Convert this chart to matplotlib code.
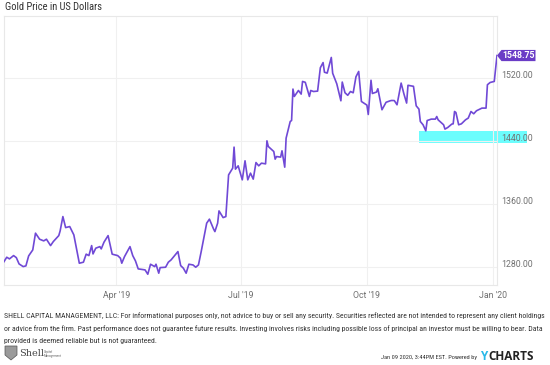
import matplotlib
matplotlib.use("Agg")
import matplotlib.pyplot as plt
import matplotlib.transforms as mtransforms
from matplotlib.patches import Polygon, Rectangle
import numpy as np
import pandas as pd

plt.rcParams['font.family'] = ['Roboto', 'DejaVu Sans']

# gold price, days counted from the first date
start = pd.Timestamp('2019-01-09')
days = [0, 2, 4, 7, 9, 11, 14, 16, 18, 21, 23, 26, 29, 31, 34, 36, 40, 41, 43, 45,
        48, 51, 55, 58, 60, 62, 64, 65, 67, 70, 71, 73, 76, 79, 83, 85, 86, 88, 92, 94,
        96, 98, 103, 105, 107, 110, 111, 113, 114, 118, 120, 122, 127, 129, 131, 133, 135, 138, 140, 142,
        144, 148, 150, 153, 154, 156, 157, 160, 162, 164, 167, 168, 169, 171, 174, 176, 178, 180, 182, 184,
        186, 188, 191, 192, 193, 197, 198, 199, 202, 203, 205, 206, 209, 210, 211, 212, 215, 217, 218, 220,
        223, 224, 226, 229, 231, 233, 234, 236, 239, 240, 243, 246, 247, 249, 251, 253, 255, 257, 259, 261,
        265, 266, 268, 269, 272, 273, 276, 279, 282, 283, 285, 287, 290, 292, 294, 295, 299, 301, 303, 304,
        306, 308, 309, 312, 315, 316, 317, 321, 322, 324, 327, 328, 329, 330, 332, 334, 337, 339, 341, 343,
        345, 349, 352, 353, 355, 358, 360]
price = [1286.7, 1292.3, 1290.2, 1294.4, 1291.8, 1283.8, 1280.4, 1281.3, 1294.0, 1301.6,
         1322.9, 1315.2, 1313.1, 1315.2, 1307.1, 1312.2, 1319.8, 1325.8, 1344.0, 1330.0,
         1331.3, 1320.7, 1284.7, 1286.0, 1296.2, 1294.4, 1307.1, 1296.5, 1303.8, 1305.8,
         1302.9, 1311.4, 1319.8, 1296.2, 1294.4, 1291.1, 1284.7, 1293.1, 1305.8, 1294.4,
         1287.6, 1277.5, 1276.2, 1270.7, 1283.4, 1280.4, 1283.4, 1272.0, 1279.1, 1279.6,
         1286.0, 1288.9, 1299.5, 1281.7, 1278.3, 1272.0, 1283.4, 1282.5, 1279.6, 1282.5,
         1299.5, 1335.6, 1340.7, 1328.3, 1324.9, 1335.6, 1351.2, 1342.7, 1344.0, 1397.0,
         1405.6, 1432.3, 1404.3, 1408.5, 1390.7, 1414.9, 1390.7, 1399.2, 1391.6, 1412.7,
         1408.5, 1411.9, 1411.0, 1440.3, 1433.1, 1426.7, 1417.0, 1420.3, 1419.6, 1427.6,
         1406.8, 1443.7, 1464.9, 1466.1, 1506.1, 1496.7, 1504.3, 1499.7, 1515.8, 1514.7,
         1496.7, 1504.3, 1503.0, 1503.5, 1533.2, 1539.8, 1527.5, 1526.4, 1546.3, 1526.2,
         1512.8, 1491.2, 1515.0, 1501.4, 1498.2, 1503.0, 1501.4, 1521.7, 1528.5, 1490.3,
         1485.7, 1473.8, 1517.3, 1500.5, 1502.3, 1506.5, 1479.8, 1489.3, 1491.2, 1491.6,
         1491.5, 1486.1, 1513.7, 1500.1, 1488.3, 1510.9, 1509.6, 1484.8, 1480.6, 1464.9,
         1460.7, 1453.0, 1466.1, 1467.9, 1467.9, 1471.2, 1467.0, 1460.7, 1455.2, 1457.2,
         1461.6, 1461.9, 1477.6, 1476.3, 1460.7, 1461.9, 1467.0, 1469.2, 1477.6, 1474.7,
         1478.5, 1481.9, 1481.9, 1511.6, 1514.5, 1515.8, 1548.75]

y_ticks = [1280, 1360, 1440, 1520]
x_tick_dates = ['2019-04-01', '2019-07-01', '2019-10-01', '2020-01-01']
x_tick_labels = ["Apr '19", "Jul '19", "Oct '19", "Jan '20"]
last_label = '1548.75'

# highlighted band next to the 1440 label
band_low, band_high = 1438, 1453
band_start = 303

footer_lines = [
    "SHELL CAPITAL MANAGEMENT, LLC: For informational purposes only, not advice to buy or sell any security. "
    "Securities reflected are not intended to represent any client holdings",
    "or advice from the firm. Past performance does not guarantee future results. Investing involves risks "
    "including possible loss of principal an investor must be willing to bear. Data",
    "provided is deemed reliable but is not guaranteed.",
]
stamp = 'Jan 09 2020, 3:44PM EST. Powered by '

line_color = '#7049d6'
tag_color = '#6a3cc6'
grid_color = '#f0f0f0'
label_color = '#707070'
narrow = ['Roboto Condensed', 'DejaVu Sans']

W, H = 550, 365
fig = plt.figure(figsize=(W / 100, H / 100), dpi=100)
ax = fig.add_axes([4 / W, 1 - 285 / H, 493 / W, 269 / H])

ax.plot(days, price, color=line_color, lw=1.2, zorder=3, solid_joinstyle='round')
ax.set_xlim(0, 360)
ax.set_ylim(1257, 1599)

x_ticks = [(pd.Timestamp(d) - start).days for d in x_tick_dates]
ax.set_xticks(x_ticks)
ax.set_yticks(y_ticks)
ax.grid(True, color=grid_color, lw=0.8)
ax.tick_params(length=0, labelleft=False, labelbottom=False)
for s in ax.spines.values():
    s.set_color('#e8e8e8')
    s.set_linewidth(0.8)

# tick labels drawn by hand to get the offsets right
for t, lab in zip(x_ticks, x_tick_labels):
    ax.text(t, -0.022, lab, transform=ax.get_xaxis_transform(), ha='center', va='top',
            fontsize=6.3, color=label_color)
for v in y_ticks:
    ax.text(1.008, v + 3.5, f'{v:.2f}', transform=ax.get_yaxis_transform(), ha='left',
            va='center', fontsize=6.3, color=label_color, zorder=5)

# cyan band
ax.add_patch(Rectangle((band_start, band_low), 382 - band_start, band_high - band_low,
                       facecolor='#6cfdfd', edgecolor='none', zorder=1, clip_on=False))

# last value tag
tip = mtransforms.ScaledTranslation(days[-1], price[-1], ax.transData)
tr = fig.dpi_scale_trans + tip
ax.add_patch(Polygon([(0, 0), (0.045, 0.056), (0.385, 0.056), (0.385, -0.056), (0.045, -0.056)],
                     closed=True, transform=tr, facecolor=tag_color, edgecolor='none',
                     clip_on=False, zorder=6))
ax.text(0.215, 0.0, last_label, transform=tr, ha='center', va='center', fontsize=6.3,
        color='white', fontweight='bold', zorder=7)

# title
fig.text(5 / W, 1 - 7 / H, 'Gold Price in US Dollars', ha='left', va='center',
         fontsize=7.6, color='#333333', family=narrow, fontstretch='condensed')

# footer, first line should run from x=4 to about x=546
foot = []
for i, line in enumerate(footer_lines):
    foot.append(fig.text(4 / W, 1 - (316 + 12.5 * i) / H, line, ha='left', va='center',
                         fontsize=5.7, color='#333333', family=narrow, fontstretch='condensed'))
renderer = fig.canvas.get_renderer()
width = foot[0].get_window_extent(renderer).width
fs = 5.7 * 541 / width
for t in foot:
    t.set_fontsize(fs)

# logo
logo = Polygon([(5, 346), (17, 346), (17, 355), (11, 360), (5, 355)], closed=True,
               transform=mtransforms.Affine2D().scale(1 / W, -1 / H).translate(0, 1) + fig.transFigure,
               facecolor='#9a9a9a', edgecolor='#555555', lw=0.5)
fig.patches.append(logo)
fig.text(19 / W, 1 - 354 / H, 'Shell', ha='left', va='center', fontsize=7, color='#444444',
         family=['DejaVu Serif'])
fig.text(44 / W, 1 - 354 / H, 'Capital\nManagement', ha='left', va='center', fontsize=2.2,
         color='#666666', linespacing=1.0)

# powered by
fig.text(479 / W, 1 - 357 / H, stamp, ha='right', va='center', fontsize=4.6,
         color='#333333', family=narrow, fontstretch='condensed')
fig.text(480 / W, 1 - 357 / H, 'Y', ha='left', va='center', fontsize=8.5, color='#28b8e8',
         fontweight='bold', family=['Open Sans', 'DejaVu Sans'])
fig.text(488 / W, 1 - 357 / H, 'CHARTS', ha='left', va='center', fontsize=8.5, color='#222222',
         fontweight='bold', family=['Open Sans', 'DejaVu Sans'])

fig.savefig('out.png', dpi=100)
